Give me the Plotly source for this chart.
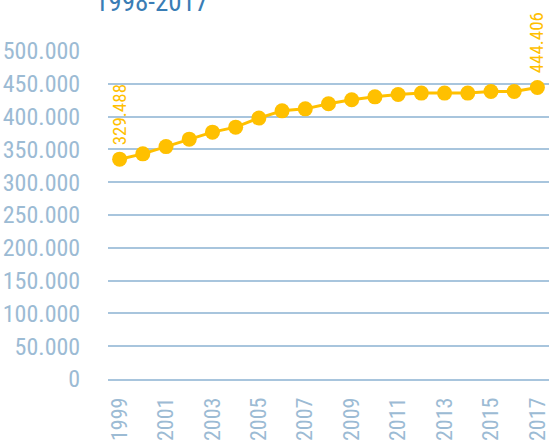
import plotly.graph_objects as go

years = [str(y) for y in range(1999, 2018)]
values = [335.1, 343.2, 354.3, 365.6, 376.3, 383.9, 397.7, 408.8, 411.8, 419.5,
          425.6, 430.1, 433.6, 435.8, 435.8, 435.8, 438.2, 438.2, 444.4]
label_text = {"1999": "329.488", "2017": "444.406"}
y_ticks = [0, 50, 100, 150, 200, 250, 300, 350, 400, 450, 500]
y_tick_labels = ["0", "50.000", "100.000", "150.000", "200.000", "250.000",
                 "300.000", "350.000", "400.000", "450.000", "500.000"]
title = "1998-2017"

FONT = "Liberation Sans Narrow, Arial Narrow, Roboto Condensed, sans-serif"
ORANGE = "#FFC000"
AXIS_TXT = "#9CBBD4"
GRID = "#A8C5DD"

fig = go.Figure()
fig.add_trace(go.Scatter(
    x=years, y=values, mode="lines+markers",
    line=dict(color=ORANGE, width=3),
    marker=dict(color=ORANGE, size=15),
    hoverinfo="x+y", showlegend=False,
))

annotations = []
for yr, txt in label_text.items():
    i = years.index(yr)
    annotations.append(dict(
        x=i, y=values[i], xref="x", yref="y", text=txt, showarrow=False,
        textangle=-90, yanchor="bottom", xanchor="center", yshift=12,
        font=dict(family=FONT, size=19, color=ORANGE),
    ))
annotations.append(dict(
    x=-0.034, y=1.095, xref="paper", yref="paper", text=title, showarrow=False,
    xanchor="left", yanchor="bottom",
    font=dict(family=FONT, size=27, color="#3A7DB5"),
))

fig.update_layout(
    width=549, height=444,
    margin=dict(l=108, r=0, t=51, b=65, autoexpand=False),
    paper_bgcolor="white", plot_bgcolor="white",
    annotations=annotations,
    xaxis=dict(
        type="category", tickmode="array",
        tickvals=years[::2], ticktext=years[::2],
        tickangle=-90, showgrid=False, automargin=False,
        showline=True, linecolor=GRID, linewidth=1.5,
        ticks="outside", ticklen=8, tickcolor="rgba(0,0,0,0)",
        tickfont=dict(family=FONT, size=22, color=AXIS_TXT),
        range=[-0.5, 18.5],
    ),
    yaxis=dict(
        range=[0, 500], tickmode="array", tickvals=y_ticks, ticktext=y_tick_labels,
        showgrid=True, gridcolor=GRID, gridwidth=1.5, zeroline=False, automargin=False,
        tickfont=dict(family=FONT, size=24, color=AXIS_TXT),
        ticks="outside", ticklen=22, tickcolor="rgba(0,0,0,0)",
    ),
)

# remove the browser's default 8px body margin so the figure fills the window
fig.write_html("out.html", config={"displayModeBar": False},
               post_script="document.body.style.margin='0';")
